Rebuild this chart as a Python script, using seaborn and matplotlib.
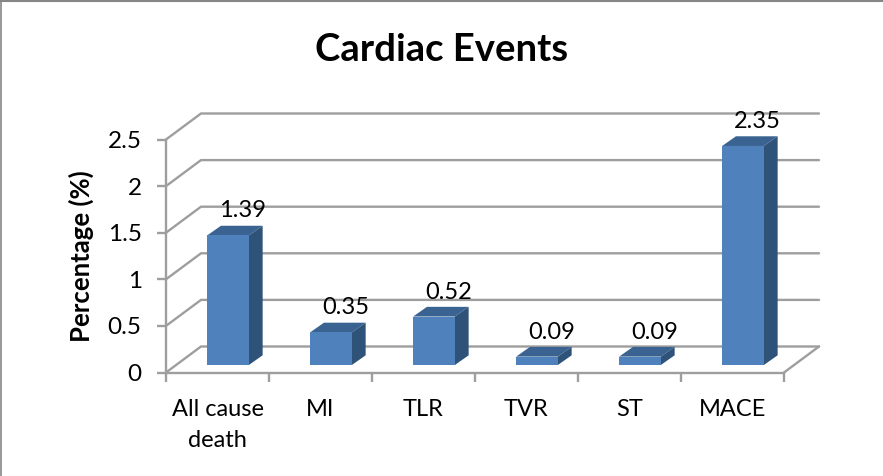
import matplotlib
matplotlib.use("Agg")
import matplotlib.pyplot as plt
from matplotlib.lines import Line2D
import pandas as pd
import seaborn as sns

categories = ["All cause\ndeath", "MI", "TLR", "TVR", "ST", "MACE"]
values = [1.39, 0.35, 0.52, 0.09, 0.09, 2.35]
value_labels = ["1.39", "0.35", "0.52", "0.09", "0.09", "2.35"]
y_ticks = [0, 0.5, 1, 1.5, 2, 2.5]
y_tick_labels = ["0", "0.5", "1", "1.5", "2", "2.5"]
title = "Cardiac Events"
y_label = "Percentage (%)"

W, H = 883, 476
FRONT = "#4F81BD"
TOP = "#3A6391"
SIDE = "#2F5279"
GRID = "#9E9E9E"

sns.set_theme(style="white")
plt.rcParams["font.family"] = ["Lato", "DejaVu Sans"]

fig = plt.figure(figsize=(W / 100, H / 100), dpi=100, facecolor="white")
ax = fig.add_axes([166 / W, (H - 372.5) / H, 618 / W, 233 / H])
df = pd.DataFrame({"category": categories, "value": values})
sns.barplot(data=df, x="category", y="value", color=FRONT, saturation=1,
            width=41.7 / 103, ax=ax, zorder=3, linewidth=0)
ax.set_xlim(-0.5, 5.5)
ax.set_ylim(0, 2.5)
px_x = 6 / 618      # data units per pixel, x
px_y = 2.5 / 233    # data units per pixel, y
wall_dx, wall_dy = 35 * px_x, 26 * px_y
bar_dx, bar_dy = 10.5 * px_x, 7.5 * px_y
side_dx, side_dy = 13.8 * px_x, 9.7 * px_y

# back wall gridlines and their diagonals
for t in y_ticks:
    ax.plot([-0.5, -0.5 + wall_dx, 5.5 + wall_dx], [t, t + wall_dy, t + wall_dy],
            color=GRID, lw=1.7, clip_on=False, zorder=1, solid_joinstyle="miter")
ax.plot([5.5, 5.5 + wall_dx], [0, wall_dy], color=GRID, lw=1.7, clip_on=False, zorder=1)

# bars: front face from seaborn, top and side derived from it
for patch, lab in zip(ax.containers[0], value_labels):
    patch.set_x(patch.get_x() + bar_dx)
    patch.set_y(patch.get_y() + bar_dy)
    x0, y0 = patch.get_x(), patch.get_y()
    x1, y1 = x0 + patch.get_width(), y0 + patch.get_height()
    ax.fill([x0, x1, x1 + side_dx, x0 + side_dx],
            [y1, y1, y1 + side_dy, y1 + side_dy],
            color=TOP, lw=0, zorder=2.9, clip_on=False)
    ax.fill([x1, x1 + side_dx, x1 + side_dx, x1],
            [y0, y0 + side_dy, y1 + side_dy, y1],
            color=SIDE, lw=0, zorder=2.9, clip_on=False)
    ax.annotate(lab, xy=((x0 + x1) / 2 + side_dx, y1), xytext=(1, 18),
                textcoords="offset pixels", ha="center", va="baseline",
                fontsize=17, color="black", zorder=5, annotation_clip=False)

# axes
for s in ("top", "right"):
    ax.spines[s].set_visible(False)
for s in ("left", "bottom"):
    ax.spines[s].set_color(GRID)
    ax.spines[s].set_linewidth(1.7)
ax.set_yticks(y_ticks, y_tick_labels)
ax.set_xticks(range(len(categories)), categories)
ax.set_xticks([i - 0.5 for i in range(len(categories) + 1)], minor=True)
ax.tick_params(axis="x", which="major", length=0, pad=19, labelsize=17, labelcolor="black")
ax.tick_params(axis="x", which="minor", length=6.5, width=1.7, color=GRID, bottom=True)
ax.tick_params(axis="y", length=6.5, width=1.7, color=GRID, left=True, pad=11,
               labelsize=17.5, labelcolor="black")
for lab in ax.get_xticklabels():
    lab.set_linespacing(1.62)
ax.set_xlabel("")
ax.set_ylabel("")
fig.text(81 / W, 1 - 256 / H, y_label, rotation=90, ha="center", va="center",
         fontsize=18.5, fontweight="bold", color="black")
fig.text(442 / W, 1 - 50 / H, title, ha="center", va="center",
         fontsize=27.5, fontweight="bold", color="black")

# chart frame
BORDER = "#868686"
fig.add_artist(Line2D([0, 1], [1 - 1 / H, 1 - 1 / H], color=BORDER, lw=1.5))
fig.add_artist(Line2D([0.5 / W, 0.5 / W], [0, 1], color=BORDER, lw=1.2))
fig.add_artist(Line2D([0, 1], [0.5 / H, 0.5 / H], color="#E8E8E8", lw=0.8))

fig.savefig("out.png", dpi=100)
